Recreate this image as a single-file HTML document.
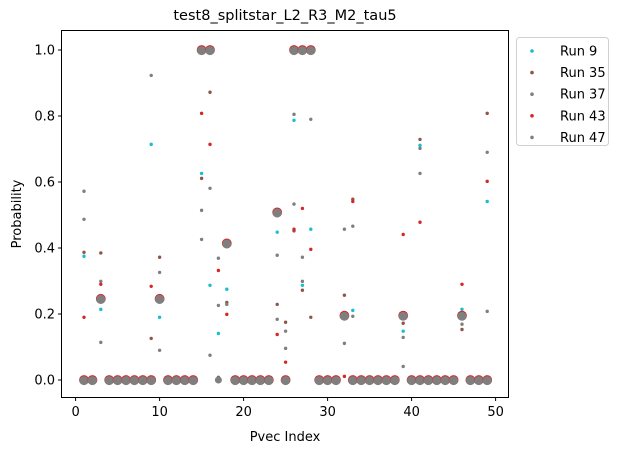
<!DOCTYPE html>
<html><head><meta charset="utf-8"><style>
body{margin:0;background:#fff;}
svg{display:block;font-family:"DejaVu Sans","Liberation Sans",sans-serif;}
</style></head><body>
<svg id="chart" width="624" height="453" viewBox="0 0 624 453" xmlns="http://www.w3.org/2000/svg">
<text x="285" y="20" text-anchor="middle" font-size="14.5">test8_splitstar_L2_R3_M2_tau5</text>
<g id="plot"></g>
<rect x="61.5" y="30.5" width="447" height="367" fill="none" stroke="#000" stroke-width="1"/>
<g id="xticks"></g>
<g id="yticks"></g>
<text x="285" y="441" text-anchor="middle" font-size="13">Pvec Index</text>
<text transform="translate(21,214) rotate(-90)" text-anchor="middle" font-size="13">Probability</text>
<g id="legend">
<rect x="516.5" y="37.5" width="92" height="108" rx="3" fill="#fff" stroke="#d0d0d0"/>
</g>
</svg>
<script>
const xDomain=[0,50], xRange=[75.6,495.6];
const yDomain=[0,1], yRange=[380,50];
const xTicks=[0,10,20,30,40,50];
const yTicks=[0,0.2,0.4,0.6,0.8,1.0];
const yTickLabels=["0.0","0.2","0.4","0.6","0.8","1.0"];
const seriesNames=["Run 9","Run 35","Run 37","Run 43","Run 47"];
const seriesColors=["#17becf","#8c564b","#7f7f7f","#d62728","#7f7f7f"];
const consIdx=[1,2,3,4,5,6,7,8,9,10,11,12,13,14,15,16,18,19,20,21,22,23,24,25,26,27,28,29,30,31,32,33,34,35,36,37,38,39,40,41,42,43,44,45,46,47,48,49];
const consVal=[0,0,0.246,0,0,0,0,0,0,0.246,0,0,0,0,1,1,0.414,0,0,0,0,0,0.508,0,1,1,1,0,0,0,0.195,0,0,0,0,0,0,0.195,0,0,0,0,0,0,0.195,0,0,0];
const zeroExtraIdx=[17];
const zeroExtraVal=[0];
const run9Idx=[1,3,9,10,15,16,17,18,24,26,27,28,33,39,41,46,49];
const run9Val=[0.375,0.214,0.714,0.19,0.626,0.287,0.141,0.275,0.448,0.787,0.287,0.457,0.211,0.148,0.711,0.214,0.541];
const run35Idx=[1,3,9,10,15,16,17,18,24,25,26,27,28,32,33,39,41,46,49];
const run35Val=[0.387,0.385,0.126,0.372,0.611,0.872,0.008,0.235,0.229,0.175,0.452,0.272,0.19,0.257,0.548,0.172,0.729,0.153,0.808];
const run37Idx=[1,3,9,10,15,16,17,18,24,25,26,27,28,32,33,39,41,46,49];
const run37Val=[0.572,0.299,0.923,0.326,0.514,0.581,0.369,0.229,0.378,0.148,0.805,0.372,0.79,0.457,0.466,0.129,0.702,0.169,0.69];
const run43Idx=[1,3,9,15,16,17,18,24,25,26,27,28,32,33,39,41,46,49];
const run43Val=[0.19,0.29,0.284,0.808,0.714,0.332,0.199,0.138,0.054,0.457,0.52,0.396,0.011,0.541,0.441,0.478,0.29,0.602];
const run47Idx=[1,3,10,15,16,17,24,25,26,27,32,33,39,41,49];
const run47Val=[0.487,0.114,0.09,0.426,0.075,0.226,0.184,0.096,0.533,0.299,0.111,0.193,0.041,0.626,0.208];
const runIdx=[run9Idx,run35Idx,run37Idx,run43Idx,run47Idx];
const runVal=[run9Val,run35Val,run37Val,run43Val,run47Val];

const NS="http://www.w3.org/2000/svg";
function sx(v){return xRange[0]+(v-xDomain[0])/(xDomain[1]-xDomain[0])*(xRange[1]-xRange[0]);}
function sy(v){return yRange[0]+(v-yDomain[0])/(yDomain[1]-yDomain[0])*(yRange[1]-yRange[0]);}
function mk(tag,attrs,parent){const e=document.createElementNS(NS,tag);for(const k in attrs)e.setAttribute(k,attrs[k]);parent.appendChild(e);return e;}
const plot=document.getElementById('plot');
for(let s=0;s<runIdx.length;s++){
  for(let i=0;i<runIdx[s].length;i++){
    const c=mk('circle',{cx:sx(runIdx[s][i]),cy:sy(runVal[s][i]),r:1.7,fill:seriesColors[s]},plot);
    
    
  }
}
for(let i=0;i<consIdx.length;i++){
  const r=mk('circle',{cx:sx(consIdx[i]),cy:sy(consVal[i]),r:4.9,fill:"#d62728"},plot);
  
  
  const g=mk('circle',{cx:sx(consIdx[i]),cy:sy(consVal[i])+0.6,r:4.5,fill:"#7f7f7f"},plot);
  
  
}
for(let i=0;i<zeroExtraIdx.length;i++){
  const g=mk('circle',{cx:sx(zeroExtraIdx[i]),cy:sy(zeroExtraVal[i]),r:3.5,fill:"#7f7f7f"},plot);
  
  
}
const xt=document.getElementById('xticks');
xTicks.forEach(t=>{
  const x=sx(t);
  mk('line',{x1:x,x2:x,y1:397.5,y2:401,stroke:"#000"},xt);
  const tx=mk('text',{x:x,y:416,'text-anchor':'middle','font-size':13},xt);
  tx.textContent=t;
  
  
});
const yt=document.getElementById('yticks');
yTicks.forEach((t,i)=>{
  const y=sy(t);
  mk('line',{x1:58,x2:61.5,y1:y,y2:y,stroke:"#000"},yt);
  const tx=mk('text',{x:55,y:y+4.5,'text-anchor':'end','font-size':13},yt);
  tx.textContent=yTickLabels[i];
  
  
});
const lg=document.getElementById('legend');
seriesNames.forEach((n,i)=>{
  const y=51+i*21.6;
  const c=mk('circle',{cx:532,cy:y,r:1.8,fill:seriesColors[i]},lg);
  
  
  const t=mk('text',{x:560,y:y+4.5,'font-size':13},lg);
  t.textContent=n;
  
  
});
</script>
</body></html>
